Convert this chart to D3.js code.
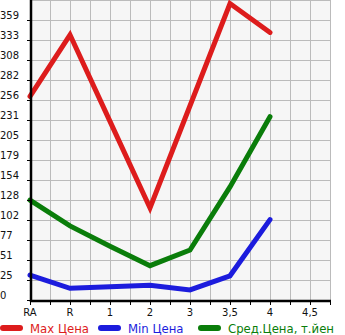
<!DOCTYPE html>
<html><head><meta charset="utf-8">
<script src="https://cdn.jsdelivr.net/npm/d3@7/dist/d3.min.js"></script>
<style>body{margin:0;background:#fff;}svg{display:block;font-family:"DejaVu Sans",sans-serif;}</style>
</head><body><svg id="c" width="345" height="335"></svg>
<script>
const categories = ["RA","R","1","2","3","3,5","4","4,5"];
const maxPrice = [261, 340, 229, 118, 249, 380, 343, null];
const minPrice = [32, 15, 17, 19, 13, 31, 103, null];
const avgPrice = [128, 95, 69, 44, 64, 145, 235, null];
const yTicks = [0,25,51,77,102,128,154,179,205,231,256,282,308,333,359];
const yMax = 384.6;
const seriesNames = ["Max Цена","Min Цена","Сред.Цена, т.йен"];
const seriesColors = ["#dd1c1c","#1c1cdd","#0a7d0a"];

const svg = d3.select("#c");
const L = 30, R = 330, T = 0, B = 300;
const x = d3.scalePoint().domain(categories).range([L, L + 280]);
const y = d3.scaleLinear().domain([0, yMax]).range([B, T]);

svg.append("rect").attr("x", L).attr("y", T).attr("width", R - L).attr("height", B - T).attr("fill", "#f6f6f6");

// grid
const g = svg.append("g").attr("stroke", "#bbbbbb").attr("stroke-width", 1);
const vx = d3.range(L, R + 1, 20);
g.selectAll("line.v").data(vx).enter().append("line")
  .attr("x1", d => d + 0.5).attr("x2", d => d + 0.5).attr("y1", T).attr("y2", B);
const hy = yTicks.map(v => y(v)).concat([T]);
g.selectAll("line.h").data(hy).enter().append("line")
  .attr("x1", L).attr("x2", R).attr("y1", d => Math.round(d) + 0.5).attr("y2", d => Math.round(d) + 0.5);

// series
const seriesData = [maxPrice, minPrice, avgPrice];
const line = d3.line().defined(d => d[1] != null).x(d => x(d[0])).y(d => y(d[1]));
seriesData.forEach((s, i) => {
  svg.append("path").datum(categories.map((c, j) => [c, s[j]]))
    .attr("d", line).attr("fill", "none").attr("stroke", seriesColors[i])
    .attr("stroke-width", 5).attr("stroke-linejoin", "miter").attr("stroke-linecap", "round");
});

// axes
const ax = svg.append("g").attr("stroke", "#000");
ax.append("line").attr("x1", L + 1).attr("x2", L + 1).attr("y1", T).attr("y2", B + 2).attr("stroke-width", 2.5);
ax.append("line").attr("x1", L).attr("x2", R + 1).attr("y1", B + 1).attr("y2", B + 1).attr("stroke-width", 2.5);
ax.selectAll("line.xt").data(vx).enter().append("line")
  .attr("x1", d => d + 0.5).attr("x2", d => d + 0.5).attr("y1", B).attr("y2", B + 5).attr("stroke-width", 1);
ax.selectAll("line.yt").data(yTicks).enter().append("line")
  .attr("x1", L - 3).attr("x2", L).attr("y1", d => Math.round(y(d)) + 0.5).attr("y2", d => Math.round(y(d)) + 0.5).attr("stroke-width", 1);

// labels
svg.selectAll("text.yl").data(yTicks).enter().append("text")
  .attr("x", 0).attr("y", d => y(d) - 1).attr("font-size", 10).attr("fill", "#111").text(d => d);
svg.selectAll("text.xl").data(categories).enter().append("text")
  .attr("x", d => x(d)).attr("y", 316).attr("text-anchor", "middle").attr("font-size", 10).attr("fill", "#111").text(d => d);

// legend
const legX = [0, 98, 198];
seriesNames.forEach((n, i) => {
  svg.append("line").attr("x1", legX[i] + 3).attr("x2", legX[i] + 20).attr("y1", 328).attr("y2", 328)
    .attr("stroke", seriesColors[i]).attr("stroke-width", 6).attr("stroke-linecap", "round");
  svg.append("text").attr("x", legX[i] + 30).attr("y", 332.5).attr("font-size", 11.7).attr("fill", seriesColors[i]).text(n);
});
</script></body></html>
